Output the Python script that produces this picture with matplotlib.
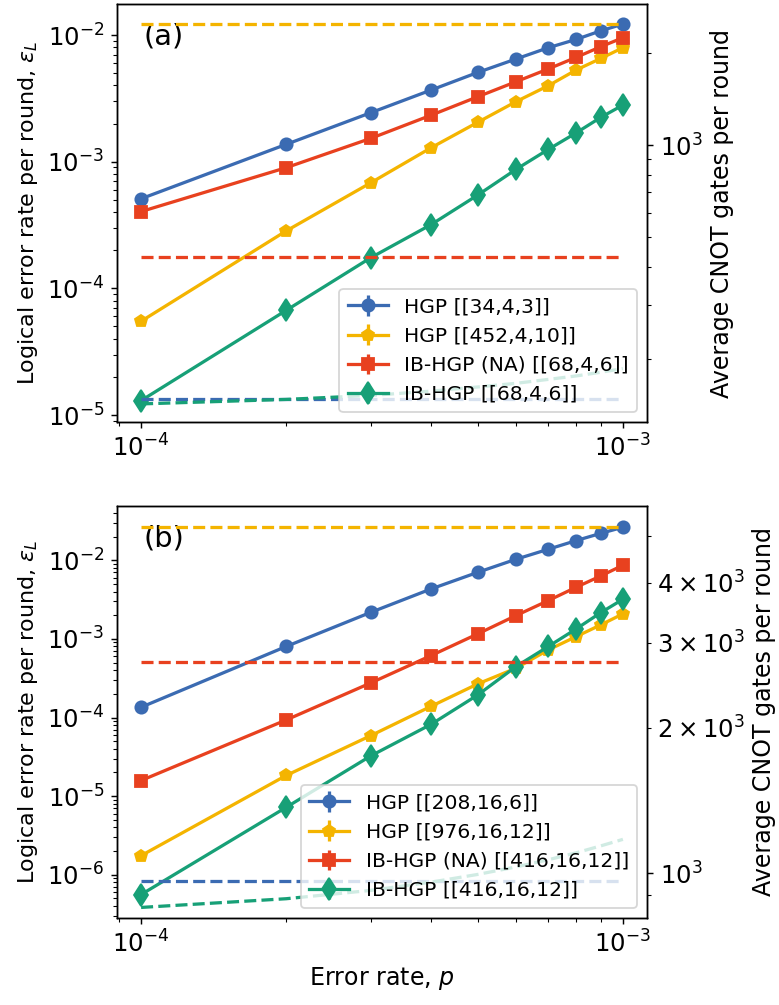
import numpy as np
import matplotlib
matplotlib.use("Agg")
import matplotlib.pyplot as plt

# ---------------- data ----------------
p = [1e-4, 2e-4, 3e-4, 4e-4, 5e-4, 6e-4, 7e-4, 8e-4, 9e-4, 1e-3]

# panel (a)
a_labels = ["HGP [[34,4,3]]", "HGP [[452,4,10]]", "IB-HGP (NA) [[68,4,6]]", "IB-HGP [[68,4,6]]"]
a_hgp_small = [5.1e-4, 1.37e-3, 2.44e-3, 3.68e-3, 5.07e-3, 6.47e-3, 7.94e-3, 9.24e-3, 1.08e-2, 1.22e-2]
a_hgp_large = [5.5e-5, 2.84e-4, 6.83e-4, 1.29e-3, 2.05e-3, 2.98e-3, 3.98e-3, 5.3e-3, 6.54e-3, 7.94e-3]
a_ib_na = [4.04e-4, 8.97e-4, 1.53e-3, 2.33e-3, 3.26e-3, 4.28e-3, 5.40e-3, 6.67e-3, 8.09e-3, 9.52e-3]
a_ib = [1.3e-5, 6.7e-5, 1.75e-4, 3.19e-4, 5.46e-4, 8.7e-4, 1.25e-3, 1.69e-3, 2.24e-3, 2.8e-3]
a_cnot_hgp_small = [148] * 10
a_cnot_hgp_large = [2485] * 10
a_cnot_ib_na = [430] * 10
a_cnot_ib = [142.6, 147.5, 152, 157, 162, 166.5, 171.5, 176, 181, 186]

# panel (b)
b_labels = ["HGP [[208,16,6]]", "HGP [[976,16,12]]", "IB-HGP (NA) [[416,16,12]]", "IB-HGP [[416,16,12]]"]
b_hgp_small = [1.35e-4, 8.0e-4, 2.18e-3, 4.32e-3, 7.03e-3, 1.03e-2, 1.38e-2, 1.78e-2, 2.20e-2, 2.63e-2]
b_hgp_large = [1.75e-6, 1.83e-5, 5.9e-5, 1.39e-4, 2.68e-4, 4.24e-4, 7.24e-4, 1.07e-3, 1.51e-3, 2.08e-3]
b_ib_na = [1.58e-5, 9.3e-5, 2.76e-4, 6.14e-4, 1.16e-3, 1.98e-3, 3.07e-3, 4.54e-3, 6.32e-3, 8.64e-3]
b_ib = [5.6e-7, 7.2e-6, 3.26e-5, 8.2e-5, 1.94e-4, 4.45e-4, 8.0e-4, 1.34e-3, 2.16e-3, 3.19e-3]
b_cnot_hgp_small = [962] * 10
b_cnot_hgp_large = [5220] * 10
b_cnot_ib_na = [2735] * 10
b_cnot_ib = [849, 885, 921, 958, 994, 1030, 1066, 1102, 1139, 1175]

err_zero = [0.0] * 10

colors = ["#3B6BB2", "#F4B400", "#E8411F", "#17A077"]
markers = ["o", "p", "s", "d"]
msizes = [6.8, 7.0, 6.8, 8.5]

plt.rcParams["font.family"] = "DejaVu Sans"
plt.rcParams["font.size"] = 12
plt.rcParams["xtick.labelsize"] = 13.5
plt.rcParams["ytick.labelsize"] = 13.5

DPI = 130
fig = plt.figure(figsize=(779 / DPI, 1005 / DPI), dpi=DPI)

W, H = 779.0, 1005.0
ax_a = fig.add_axes([117 / W, 1 - 422 / H, 530 / W, 418 / H])
ax_b = fig.add_axes([117 / W, 1 - 918 / H, 530 / W, 412 / H])


def panel(ax, series, cnots, labels, tag, ylim, ylim2):
    handles = []
    for y, c, m, ms, lab in zip(series, colors, markers, msizes, labels):
        h = ax.errorbar(p, y, yerr=err_zero, color=c, marker=m, markersize=ms,
                        linewidth=1.8, label=lab)
        handles.append(h)
    ax.set_xscale("log")
    ax.set_yscale("log")
    ax.set_ylim(*ylim)
    ax.set_ylabel(r"Logical error rate per round, $\varepsilon_L$", fontsize=12.3)
    ax.text(0.05, 0.955, tag, transform=ax.transAxes, fontsize=16, va="top", ha="left")

    ax2 = ax.twinx()
    for yc, c in zip(cnots, colors):
        ax2.plot(p, yc, "--", color=c, linewidth=1.8)
    ax2.set_yscale("log")
    ax2.set_ylim(*ylim2)
    ax2.set_ylabel("Average CNOT gates per round", fontsize=13.2)
    ax2.legend(handles, labels, loc="lower right", fontsize=11.2, labelspacing=0.5)
    return ax2


panel(ax_a, [a_hgp_small, a_hgp_large, a_ib_na, a_ib],
      [a_cnot_hgp_small, a_cnot_hgp_large, a_cnot_ib_na, a_cnot_ib],
      a_labels, "(a)", (10 ** -5.055, 10 ** -1.755), (10 ** 2.095, 10 ** 3.461))
panel(ax_b, [b_hgp_small, b_hgp_large, b_ib_na, b_ib],
      [b_cnot_hgp_small, b_cnot_hgp_large, b_cnot_ib_na, b_cnot_ib],
      b_labels, "(b)", (10 ** -6.55, 10 ** -1.31), (10 ** 2.907, 10 ** 3.761))

ax_b.set_xlabel(r"Error rate, $p$", fontsize=13.2)

fig.savefig("out.png", dpi=DPI)
